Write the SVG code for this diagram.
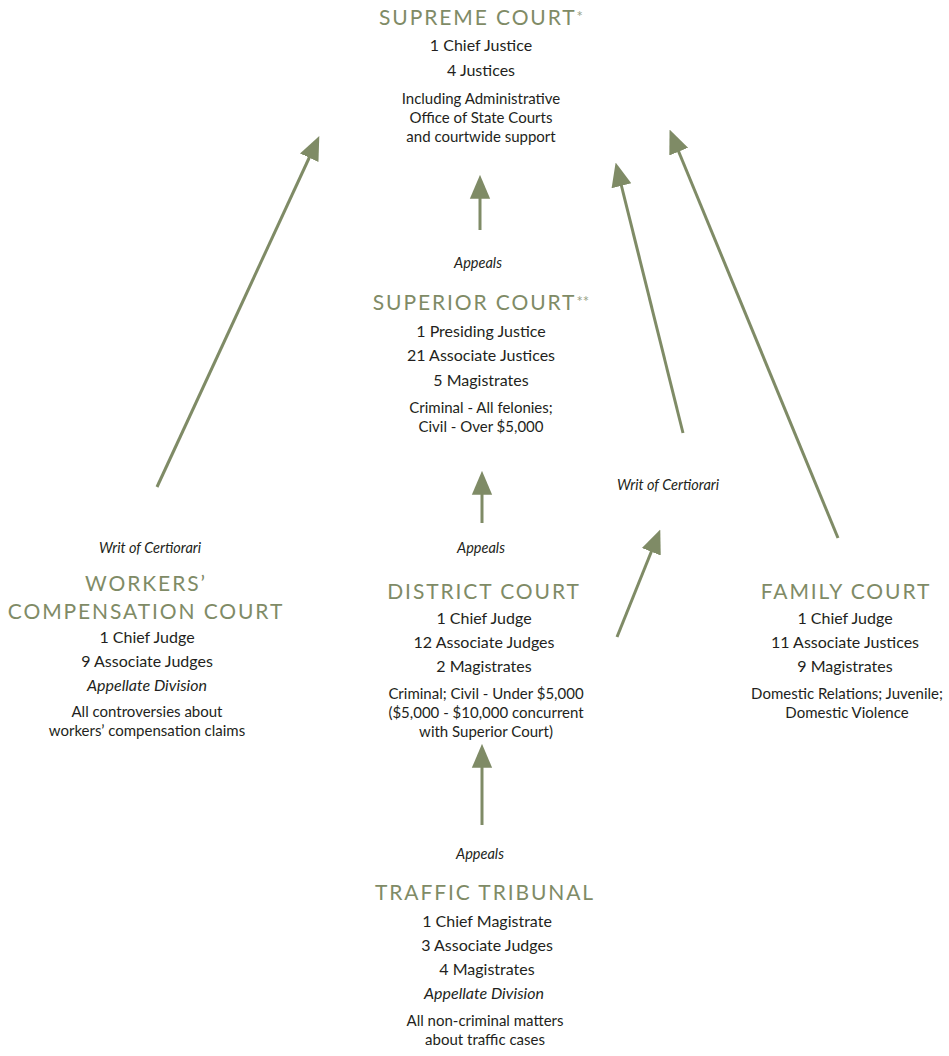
<svg xmlns="http://www.w3.org/2000/svg" width="949" height="1056" viewBox="0 0 949 1056">
<defs>
<style>
text{font-family:"Lato","Open Sans","Liberation Sans",sans-serif;text-anchor:middle;fill:#231f20}
.t{font-size:21px;fill:#7f8b66;letter-spacing:1.9px}
.s{font-size:15px;fill:#9aa388;letter-spacing:0}
.m{font-size:16px}
.d{font-size:15px}
.i{font-size:14.5px;font-style:italic}
.im{font-size:16px;font-style:italic}
.c{stroke:#7f8b66;stroke-width:3;fill:none}
</style>
<marker id="ah" markerUnits="userSpaceOnUse" markerWidth="24" markerHeight="26" refX="2" refY="11" orient="auto" viewBox="0 0 26 22">
<path d="M0,0 L26,11 L0,22 Z" fill="#7f8b66"/>
</marker>
</defs>
<rect width="949" height="1056" fill="#fff"/>
<g id="connectors">
<line class="c" x1="480" y1="230" x2="480" y2="197" marker-end="url(#ah)"/>
<line class="c" x1="482" y1="523" x2="482" y2="493" marker-end="url(#ah)"/>
<line class="c" x1="482" y1="825" x2="482" y2="766" marker-end="url(#ah)"/>
<line class="c" x1="157" y1="487" x2="310" y2="156" marker-end="url(#ah)"/>
<line class="c" x1="683" y1="433" x2="621" y2="184" marker-end="url(#ah)"/>
<line class="c" x1="838" y1="538" x2="678" y2="150" marker-end="url(#ah)"/>
<line class="c" x1="617" y1="637" x2="652" y2="550" marker-end="url(#ah)"/>
</g>
<g id="supreme">
<text class="t" x="481" y="25">SUPREME COURT<tspan class="s" dy="-3">*</tspan></text>
<text class="m" x="481" y="51">1 Chief Justice</text>
<text class="m" x="481" y="76">4 Justices</text>
<text class="d" x="481" y="104">Including Administrative</text>
<text class="d" x="481" y="123">Office of State Courts</text>
<text class="d" x="481" y="142">and courtwide support</text>
</g>
<g id="lbl-appeals1"><text class="i" x="478" y="268">Appeals</text></g>
<g id="superior">
<text class="t" x="481" y="310">SUPERIOR COURT<tspan class="s" dy="-3">**</tspan></text>
<text class="m" x="481" y="337">1 Presiding Justice</text>
<text class="m" x="481" y="361">21 Associate Justices</text>
<text class="m" x="481" y="386">5 Magistrates</text>
<text class="d" x="481" y="413">Criminal - All felonies;</text>
<text class="d" x="481" y="432">Civil - Over $5,000</text>
</g>
<g id="lbl-writ-right"><text class="i" x="668" y="490">Writ of Certiorari</text></g>
<g id="lbl-writ-left"><text class="i" x="150" y="553">Writ of Certiorari</text></g>
<g id="lbl-appeals2"><text class="i" x="481" y="553">Appeals</text></g>
<g id="workers">
<text class="t" x="146" y="591">WORKERS’</text>
<text class="t" x="146" y="619">COMPENSATION COURT</text>
<text class="m" x="147" y="643">1 Chief Judge</text>
<text class="m" x="147" y="667">9 Associate Judges</text>
<text class="im" x="147" y="691">Appellate Division</text>
<text class="d" x="147" y="717">All controversies about</text>
<text class="d" x="147" y="736">workers’ compensation claims</text>
</g>
<g id="district">
<text class="t" x="484" y="599">DISTRICT COURT</text>
<text class="m" x="484" y="624">1 Chief Judge</text>
<text class="m" x="484" y="648">12 Associate Judges</text>
<text class="m" x="484" y="672">2 Magistrates</text>
<text class="d" x="486" y="699">Criminal; Civil - Under $5,000</text>
<text class="d" x="486" y="718">($5,000 - $10,000 concurrent</text>
<text class="d" x="486" y="737">with Superior Court)</text>
</g>
<g id="family">
<text class="t" x="846" y="599">FAMILY COURT</text>
<text class="m" x="845" y="624">1 Chief Judge</text>
<text class="m" x="845" y="648">11 Associate Justices</text>
<text class="m" x="845" y="672">9 Magistrates</text>
<text class="d" x="847" y="699">Domestic Relations; Juvenile;</text>
<text class="d" x="847" y="718">Domestic Violence</text>
</g>
<g id="lbl-appeals3"><text class="i" x="480" y="859">Appeals</text></g>
<g id="traffic">
<text class="t" x="485" y="900">TRAFFIC TRIBUNAL</text>
<text class="m" x="487" y="927">1 Chief Magistrate</text>
<text class="m" x="487" y="951">3 Associate Judges</text>
<text class="m" x="487" y="975">4 Magistrates</text>
<text class="im" x="484" y="999">Appellate Division</text>
<text class="d" x="485" y="1026">All non-criminal matters</text>
<text class="d" x="485" y="1045">about traffic cases</text>
</g>
</svg>
